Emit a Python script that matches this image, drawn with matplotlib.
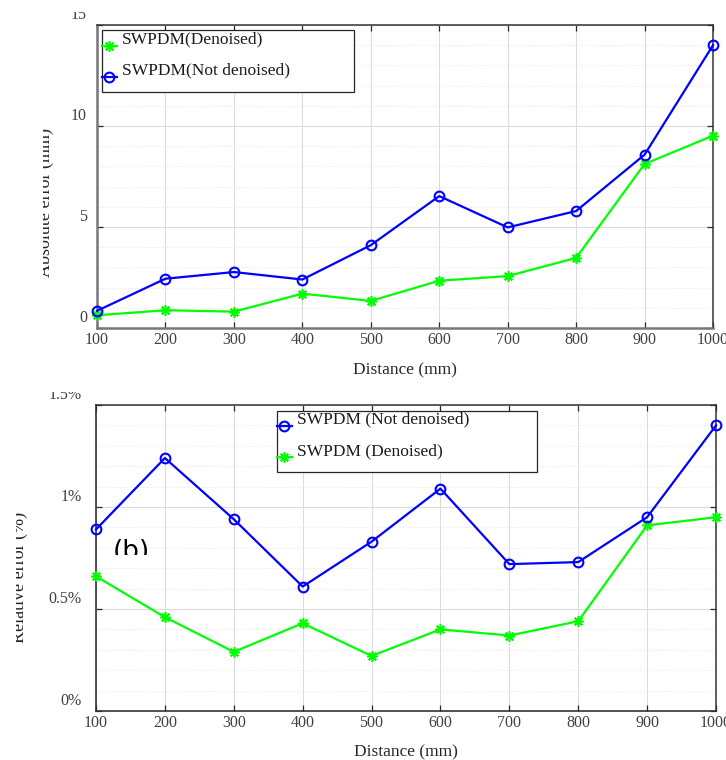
import matplotlib
matplotlib.use('Agg')
import matplotlib.pyplot as plt
import matplotlib.transforms as mtransforms
from matplotlib.lines import Line2D
from matplotlib.patches import Rectangle
from matplotlib.legend_handler import HandlerLine2D
from matplotlib.ticker import MultipleLocator

# distances (mm)
distance = [100, 200, 300, 400, 500, 600, 700, 800, 900, 1000]

# absolute error (mm)
abs_denoised = [0.63, 0.88, 0.81, 1.70, 1.34, 2.34, 2.57, 3.47, 8.12, 9.52]
abs_raw = [0.85, 2.44, 2.77, 2.40, 4.10, 6.53, 4.98, 5.79, 8.58, 14.0]

# relative error (%)
rel_raw = [0.89, 1.24, 0.94, 0.61, 0.83, 1.09, 0.72, 0.73, 0.95, 1.40]
rel_denoised = [0.66, 0.46, 0.29, 0.43, 0.27, 0.40, 0.37, 0.44, 0.91, 0.95]

abs_ticks = [0, 5, 10, 15]
rel_ticks = [0, 0.5, 1, 1.5]
rel_ticklabels = ['0%', '0.5%', '1%', '1.5%']

W, H = 726, 760
SERIF = ['Liberation Serif', 'DejaVu Serif']
BLUE = '#0000ff'
GREEN = '#00ff00'
DARK = '#262626'

plt.rcParams['font.family'] = SERIF


class ShiftedLine(HandlerLine2D):
    # legend handle moved by a few pixels, like the original
    def __init__(self, dx, dy, **kw):
        super().__init__(**kw)
        self.shift = mtransforms.Affine2D().translate(dx, dy)

    def create_artists(self, legend, orig_handle, xdescent, ydescent,
                       width, height, fontsize, trans):
        return super().create_artists(legend, orig_handle, xdescent, ydescent,
                                      width, height, fontsize, trans + self.shift)


def clip_px(x0=0, top=0, x1=W, bottom=H):
    # clip box given in image pixels (y from the top)
    return mtransforms.Bbox.from_extents(x0, H - bottom, x1, H - top)


def white_out(fig, x0, top, x1, bottom):
    # agg ignores clipping on rotated text, so hide the cut part with paper
    fig.add_artist(Rectangle((x0 / W, (H - bottom) / H), (x1 - x0) / W,
                             (bottom - top) / H, transform=fig.transFigure,
                             facecolor='white', edgecolor='none', zorder=10))


def setup(ax, ymax, minor, ticks, ticklabels, ypad, left_spines):
    ax.set_xlim(100, 1000)
    ax.set_ylim(0, ymax)
    ax.set_xticks(distance)
    ax.set_yticks(ticks)
    ax.set_yticklabels(ticklabels)
    ax.yaxis.set_minor_locator(MultipleLocator(minor))
    ax.grid(True, which='major', color='#dcdcdc', lw=0.8)
    ax.yaxis.grid(True, which='minor', color='#e6e6e6', lw=0.7, ls=':')
    ax.set_axisbelow(True)
    ax.tick_params(which='major', direction='in', top=True, right=True,
                   length=4.5, width=0.9, color=DARK, labelsize=11.5,
                   labelcolor='#404040')
    ax.tick_params(axis='x', pad=3)
    ax.tick_params(axis='y', pad=ypad)
    ax.tick_params(which='minor', length=0)
    for s in ['top', 'right']:
        ax.spines[s].set_color('#333333')
        ax.spines[s].set_linewidth(1.1)
    for s in ['left', 'bottom']:
        ax.spines[s].set_color(left_spines[0])
        ax.spines[s].set_linewidth(left_spines[1])
    ax.set_xlabel('Distance (mm)', fontsize=12.5, color=DARK, va='center')
    # y tick labels sit a bit above their ticks in the original
    up = mtransforms.ScaledTranslation(0, 12 / 100, ax.figure.dpi_scale_trans)
    for lab in ax.get_yticklabels():
        lab.set_transform(lab.get_transform() + up)


def add_legend(ax, handles, labels, anchor):
    leg = ax.legend(handles, labels, loc='upper left', bbox_to_anchor=anchor,
                    mode='expand', borderaxespad=0, borderpad=0.41,
                    labelspacing=0.87, handlelength=0.85, handletextpad=0.3,
                    fancybox=False, framealpha=1, edgecolor=DARK,
                    prop={'family': SERIF, 'size': 12.5},
                    handler_map={Line2D: ShiftedLine(-6.9, -2.2)})
    leg.get_frame().set_linewidth(0.9)
    for t in leg.get_texts():
        t.set_color('#1a1a1a')
        t.set_transform(t.get_transform() + mtransforms.Affine2D().translate(-6.9, 6.3))
    return leg


fig = plt.figure(figsize=(W / 100, H / 100), dpi=100)
ax1 = fig.add_axes([97 / W, (H - 328) / H, 616 / W, 303 / H])
ax2 = fig.add_axes([96 / W, (H - 711) / H, 620 / W, 306 / H])

# ---- (a) absolute error
g1, = ax1.plot(distance, abs_denoised, color=GREEN, lw=1.6, marker=(8, 2, 0),
               ms=7.5, mew=1.2, clip_on=False, zorder=3)
b1, = ax1.plot(distance, abs_raw, color=BLUE, lw=1.6, marker='o', ms=7,
               mfc='none', mew=1.5, clip_on=False, zorder=4)
setup(ax1, 15, 1, abs_ticks, [str(t) for t in abs_ticks], 7.2, ('#777777', 1.8))
ax1.xaxis.set_label_coords(0.5, -42 / 303)
ax1.set_ylabel('Absolute error (mm)', fontsize=13, color=DARK)
ax1.yaxis.set_label_coords(50 / W, (H - 202.5) / H, transform=fig.transFigure)
ax1.yaxis.label.set_va('baseline')
for lab in ax1.get_yticklabels():
    lab.set_clip_box(clip_px(top=12))
add_legend(ax1, [g1, b1], ['SWPDM(Denoised)', 'SWPDM(Not denoised)'],
           (0.0076, 0.0, 0.410, 0.9825))
white_out(fig, 0, 110, 43, 300)

# ---- (b) relative error
b2, = ax2.plot(distance, rel_raw, color=BLUE, lw=1.6, marker='o', ms=7,
               mfc='none', mew=1.5, clip_on=False, zorder=4)
g2, = ax2.plot(distance, rel_denoised, color=GREEN, lw=1.6, marker=(8, 2, 0),
               ms=7.5, mew=1.2, clip_on=False, zorder=3)
setup(ax2, 1.5, 0.1, rel_ticks, rel_ticklabels, 10.3, ('#333333', 1.2))
ax2.xaxis.set_label_coords(0.5, -41 / 306)
ax2.set_ylabel('Relative error (%)', fontsize=13, color=DARK)
ax2.yaxis.set_label_coords(24 / W, (H - 577) / H, transform=fig.transFigure)
ax2.yaxis.label.set_va('baseline')
for lab in ax2.get_yticklabels():
    lab.set_clip_box(clip_px(top=392))
add_legend(ax2, [b2, g2], ['SWPDM (Not denoised)', 'SWPDM (Denoised)'],
           (0.2915, 0.0, 0.4194, 0.9814))
white_out(fig, 0, 490, 16, 665)

# panel tag, cut off just above its baseline as in the source image
tag = fig.text(113 / W, (H - 559) / H, '(b)', fontsize=19, family='DejaVu Sans',
               va='baseline', ha='left', color='black')
tag.set_clip_box(clip_px(bottom=555))

fig.savefig('out.png', dpi=100)
